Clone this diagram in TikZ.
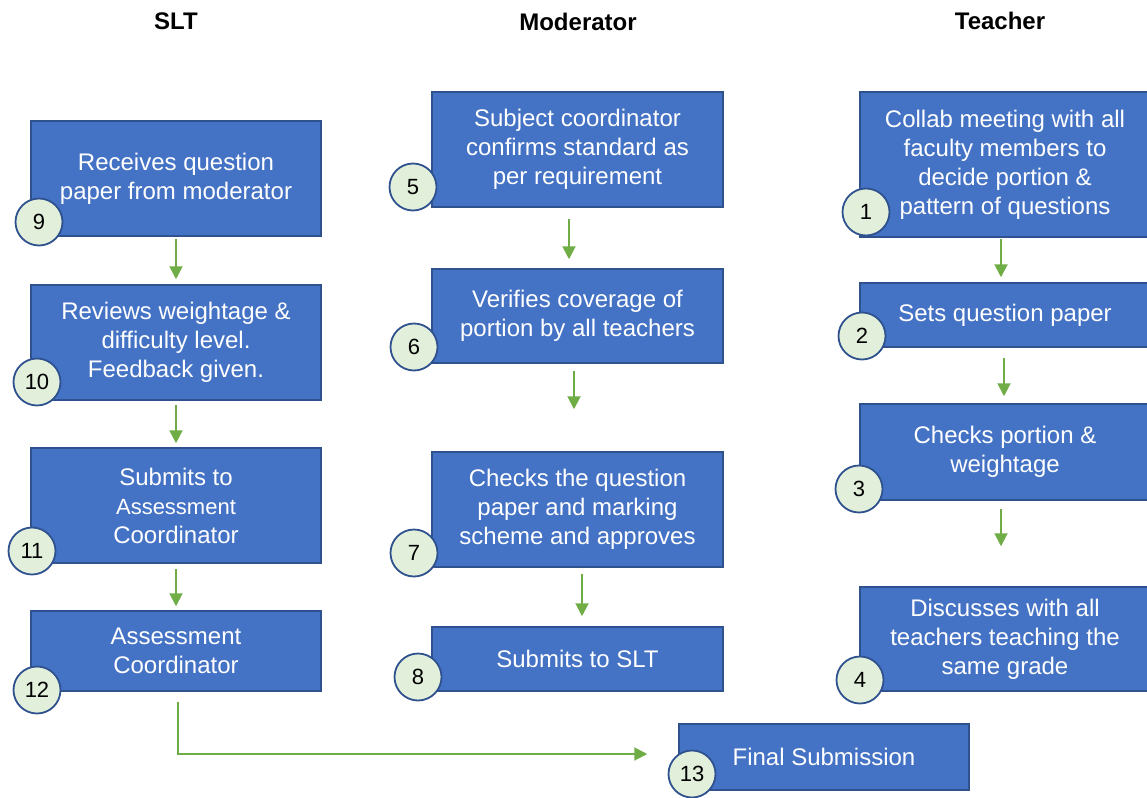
\documentclass[tikz,border=0pt]{standalone}
\usepackage{fontspec}
\setmainfont{Liberation Sans}
\usetikzlibrary{arrows.meta}
\definecolor{boxblue}{HTML}{4472C4}
\definecolor{boxedge}{HTML}{2F528F}
\definecolor{numfill}{HTML}{E2EFDA}
\definecolor{arrgreen}{HTML}{70AD47}
\tikzset{
  box/.style={draw=boxedge, line width=1.5pt, fill=boxblue, text=white, align=center, inner sep=0pt,
    font=\fontsize{24}{29}\selectfont},
  num/.style={circle, draw=boxedge, line width=1.8pt, fill=numfill, minimum size=47pt, inner sep=0pt,
    font=\fontsize{22}{26}\selectfont},
  head/.style={font=\bfseries\fontsize{24}{28}\selectfont},
  arr/.style={draw=arrgreen, line width=2pt, -{Triangle[width=13pt,length=13pt]}}
}
\begin{document}
\begin{tikzpicture}[x=1pt,y=-1pt]
\useasboundingbox (0,0) rectangle (1147,797);
% headings
\node[head] (hslt) at (176,21) {SLT};
\node[head] (hmod) at (578,22) {Moderator};
\node[head] (hteach) at (1000,21) {Teacher};
% SLT column
\node[box, minimum width=290, minimum height=115] (b9) at (176,178.5) {Receives question\\paper from moderator};
\node[box, minimum width=290, minimum height=115] (b10) at (176,342.5) {Reviews weightage \&\\difficulty level.\\Feedback given.};
\node[box, minimum width=290, minimum height=115] (b11) at (176,505.5) {Submits to\\{\fontsize{22}{29}\selectfont Assessment}\\Coordinator};
\node[box, minimum width=290, minimum height=80] (b12) at (176,651) {Assessment\\Coordinator};
% Moderator column
\node[box, minimum width=291, minimum height=115] (b5) at (577.5,149.5) {Subject coordinator\\confirms standard as\\per requirement};
\node[box, minimum width=291, minimum height=94] (b6) at (577.5,316) {Verifies coverage of\\portion by all teachers};
\node[box, minimum width=291, minimum height=115] (b7) at (577.5,509.5) {Checks the question\\paper and marking\\scheme and approves};
\node[box, minimum width=291, minimum height=64] (b8) at (577.5,659) {Submits to SLT};
% Teacher column
\node[box, minimum width=290, minimum height=145] (b1) at (1005,164.5) {Collab meeting with all\\faculty members to\\decide portion \&\\pattern of questions};
\node[box, minimum width=290, minimum height=64] (b2) at (1005,315) {Sets question paper};
\node[box, minimum width=290, minimum height=96] (b3) at (1005,452) {Checks portion \&\\weightage};
\node[box, minimum width=290, minimum height=104] (b4) at (1005,639) {Discusses with all\\teachers teaching the\\same grade};
% Final
\node[box, minimum width=290, minimum height=66] (b13) at (824,757) {Final Submission};
% number circles
\node[num] (c1) at (866,212) {1};
\node[num] (c2) at (862,336) {2};
\node[num] (c3) at (859,489) {3};
\node[num] (c4) at (860,680) {4};
\node[num] (c5) at (413,187) {5};
\node[num] (c6) at (414,347) {6};
\node[num] (c7) at (414,553) {7};
\node[num] (c8) at (418,677) {8};
\node[num] (c9) at (39,222) {9};
\node[num] (c10) at (37,382) {10};
\node[num] (c11) at (32,551) {11};
\node[num] (c12) at (37,690) {12};
\node[num] (c13) at (692,774) {13};
% arrows
\draw[arr, shorten <=2pt, shorten >=5pt] (b9.south) -- (b10.north);
\draw[arr, shorten <=4pt, shorten >=4pt] (b10.south) -- (b11.north);
\draw[arr, shorten <=5pt, shorten >=4pt] (b11.south) -- (b12.north);
\draw[arr, shorten <=11pt, shorten >=9pt] ([xshift=-8.5]b5.south) -- ([xshift=-8.5]b6.north);
\draw[arr, shorten <=7pt, shorten >=42pt] ([xshift=-3.5]b6.south) -- ([xshift=-3.5]b7.north);
\draw[arr, shorten <=6pt, shorten >=10pt] ([xshift=4.5]b7.south) -- ([xshift=4.5]b8.north);
\draw[arr, shorten <=1pt, shorten >=5pt] ([xshift=-4]b1.south) -- ([xshift=-4]b2.north);
\draw[arr, shorten <=10pt, shorten >=7pt] ([xshift=-1]b2.south) -- ([xshift=-1]b3.north);
\draw[arr, shorten <=8pt, shorten >=40pt] ([xshift=-4]b3.south) -- ([xshift=-4]b4.north);
\coordinate (a12) at ([xshift=2,yshift=-10]b12.south);
\draw[arr, shorten >=31pt] (a12) |- ([yshift=3]b13.west);
\end{tikzpicture}
\end{document}
